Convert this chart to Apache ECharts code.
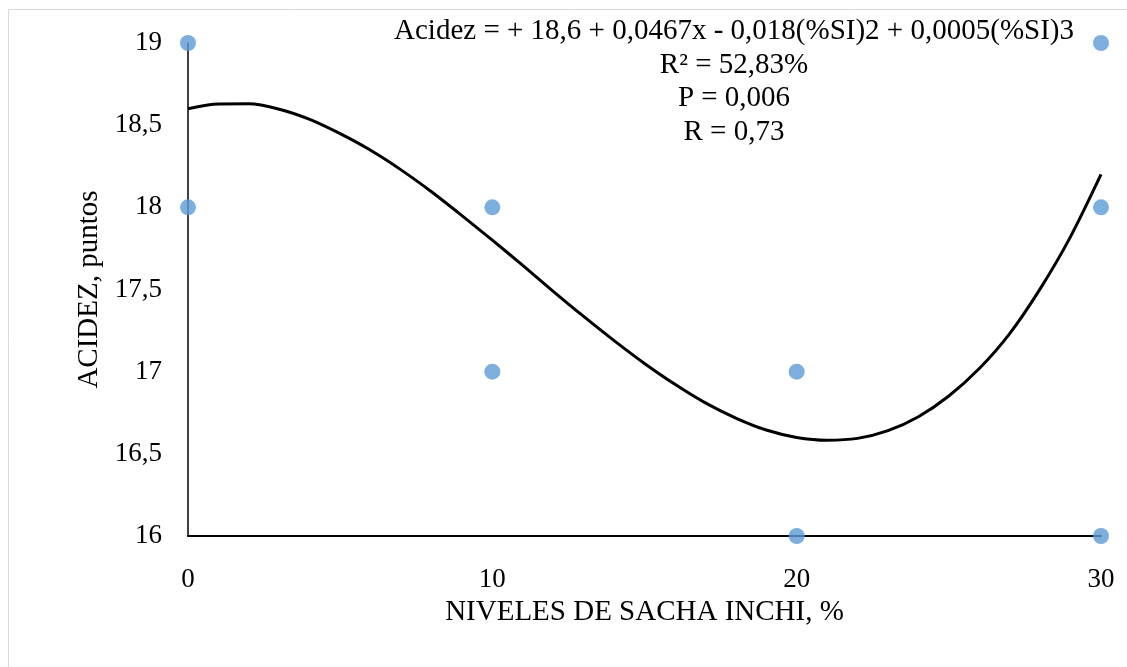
<!DOCTYPE html>
<html>
<head>
<meta charset="utf-8">
<script src="https://cdn.jsdelivr.net/npm/echarts@6/dist/echarts.min.js"></script>
<style>
  html, body { margin: 0; padding: 0; background: #fff; }
  #chart { width: 1127px; height: 667px; }
</style>
</head>
<body>
<div id="chart"></div>
<script>
// observaciones (nivel de sacha inchi %, acidez puntos)
const nivelX = [0, 0, 10, 10, 20, 20, 30, 30, 30];
const acidezY = [19, 18, 18, 17, 17, 16, 19, 18, 16];

// linea de tendencia, cada 1 %
const curvaX = [0, 1, 2, 3, 4, 5, 6, 7, 8, 9, 10, 11, 12, 13, 14, 15,
    16, 17, 18, 19, 20, 21, 22, 23, 24, 25, 26, 27, 28, 29, 30];
const curvaY = [18.600, 18.629, 18.630, 18.597, 18.535, 18.448, 18.347, 18.228, 18.095, 17.950, 17.800,
    17.647, 17.489, 17.336, 17.189, 17.050, 16.923, 16.810, 16.718, 16.645, 16.600,
    16.583, 16.594, 16.641, 16.726, 16.852, 17.019, 17.232, 17.504, 17.822, 18.200];

const xTicks = [0, 10, 20, 30];
const yTicks = [16, 16.5, 17, 17.5, 18, 18.5, 19];

const textoEcuacion = [
    'Acidez = + 18,6 + 0,0467x - 0,018(%SI)2 + 0,0005(%SI)3',
    'R² = 52,83%',
    'P = 0,006',
    'R = 0,73'
];

const fuente = '"Liberation Serif", "Times New Roman", serif';

var chart = echarts.init(document.getElementById('chart'));

const puntos = nivelX.map((x, i) => [x, acidezY[i]]);
const curva = curvaX.map((x, i) => [x, curvaY[i]]);

option = {
    animation: false,
    backgroundColor: '#fff',
    grid: {
        left: 188,
        right: 26,
        top: 43,
        bottom: 131,
        outerBoundsMode: 'none'
    },
    xAxis: {
        type: 'value',
        min: xTicks[0],
        max: xTicks[xTicks.length - 1],
        interval: 10,
        name: 'NIVELES DE SACHA INCHI, %',
        nameLocation: 'middle',
        nameGap: 61,
        nameTextStyle: { fontFamily: fuente, fontSize: 29, color: '#000' },
        axisLine: { lineStyle: { color: '#000', width: 2 } },
        axisTick: { show: false },
        splitLine: { show: false },
        axisLabel: {
            fontFamily: fuente, fontSize: 27, color: '#000', margin: 30
        }
    },
    yAxis: {
        type: 'value',
        min: yTicks[0],
        max: yTicks[yTicks.length - 1],
        interval: 0.5,
        name: 'ACIDEZ, puntos',
        nameLocation: 'middle',
        nameGap: 84,
        nameTextStyle: { fontFamily: fuente, fontSize: 29, color: '#000' },
        axisLine: { show: true, lineStyle: { color: '#000', width: 1.5 } },
        axisTick: { show: false },
        splitLine: { show: false },
        axisLabel: {
            fontFamily: fuente, fontSize: 27, color: '#000', margin: 26,
            formatter: v => String(v).replace('.', ',')
        }
    },
    graphic: [
        {
            type: 'rect',
            shape: { x: 8.5, y: 9.5, width: 1300, height: 900 },
            style: { fill: 'none', stroke: '#d9d9d9', lineWidth: 1 },
            silent: true
        },
        {
            type: 'text',
            x: 734,
            y: 15,
            style: {
                text: textoEcuacion.join('\n'),
                align: 'center',
                font: '29px ' + fuente,
                lineHeight: 33.5,
                fill: '#000'
            }
        }
    ],
    series: [
        {
            name: 'tendencia',
            type: 'line',
            data: curva,
            smooth: 0.3,
            showSymbol: false,
            lineStyle: { color: '#000', width: 3 },
            z: 2
        },
        {
            name: 'acidez',
            type: 'scatter',
            data: puntos,
            symbolSize: 16,
            clip: false,
            itemStyle: { color: '#5B9BD5' },
            z: 3
        }
    ]
};

chart.setOption(option);
</script>
</body>
</html>
